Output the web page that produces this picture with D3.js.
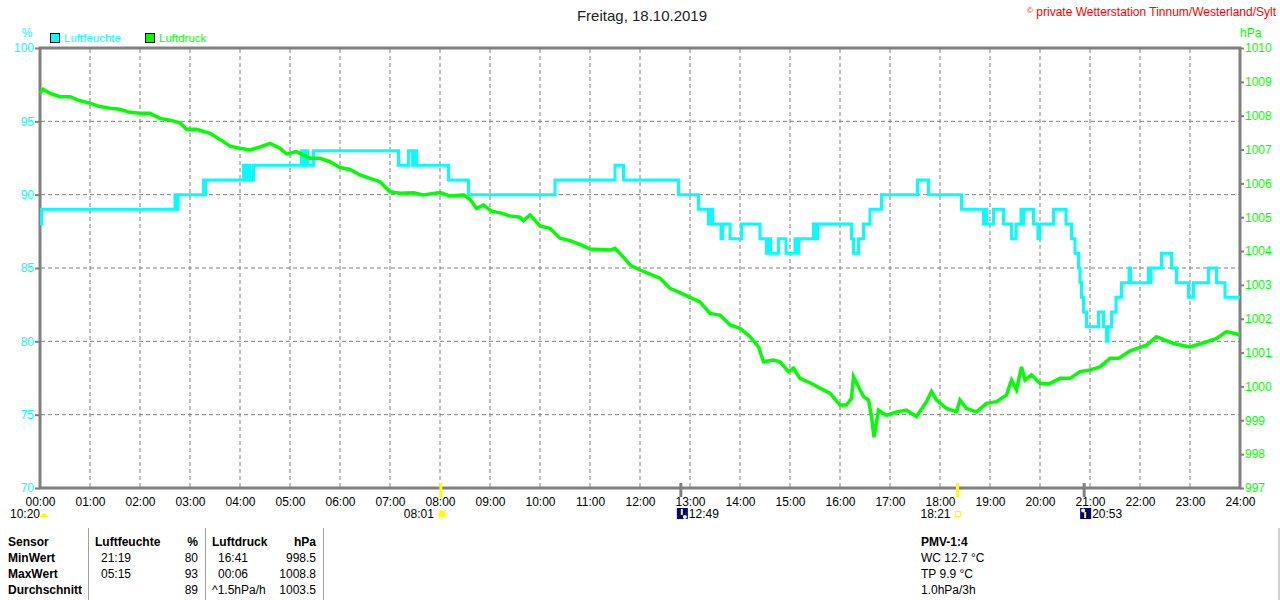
<!DOCTYPE html>
<html lang="de">
<head>
<meta charset="UTF-8" />
<title>Freitag, 18.10.2019</title>
<script src="https://d3js.org/d3.v7.min.js"></script>
<style>
  body { margin: 0; background: #fff; }
  svg { display: block; font-family: "Liberation Sans", Arial, sans-serif; }
  .grid line { stroke: #808080; stroke-width: 1; stroke-dasharray: 4,3; }
  .axis text { font-size: 12px; }
  .axis path { display: none; }
  .axis line { stroke: #808080; stroke-width: 2; }
  .tbl { font-size: 12px; fill: #000; }
  .tbl.b { font-weight: bold; }
</style>
</head>
<body>
<svg id="chart" width="1280" height="600"></svg>
<script>
// --- data ---
const hours = d3.range(0, 25);
const humTicks = [70, 75, 80, 85, 90, 95, 100];
const presTicks = d3.range(997, 1011);

// Luftfeuchte (%), step series: time in hours, value from that time on
const humTimes = [0.00, 0.03, 2.70, 2.73, 2.76, 3.27, 3.29, 3.31, 4.07, 4.13, 4.17, 4.20, 4.27, 5.23, 5.27, 5.31, 5.35, 5.47,
  7.17, 7.37, 7.45, 7.49, 7.53, 8.17, 8.57, 10.30, 11.50, 11.67, 12.77, 13.17, 13.37, 13.41, 13.45, 13.62, 13.65, 13.80,
  14.03, 14.40, 14.53, 14.58, 14.61, 14.77, 14.92, 15.10, 15.13, 15.17, 15.47, 15.53, 15.55, 16.23, 16.27, 16.37, 16.47,
  16.60, 16.83, 17.55, 17.77, 18.43, 18.87, 18.90, 18.93, 19.07, 19.27, 19.43, 19.52, 19.62, 19.64, 19.67, 19.87, 19.96,
  19.99, 20.27, 20.52, 20.63, 20.70, 20.77, 20.80, 20.83, 20.87, 20.93, 21.17, 21.27, 21.33, 21.36, 21.43, 21.52, 21.63,
  21.78, 21.81, 22.17, 22.20, 22.22, 22.43, 22.63, 22.73, 22.97, 23.07, 23.37, 23.53, 23.70, 24.00];
const humValues = [88, 89, 90, 89, 90, 91, 90, 91, 92, 91, 92, 91, 92, 93, 92, 93, 92, 93,
  92, 93, 92, 93, 92, 91, 90, 91, 92, 91, 90, 89, 88, 89, 88, 87, 88, 87,
  88, 87, 86, 87, 86, 87, 86, 87, 86, 87, 88, 87, 88, 87, 86, 87, 88,
  89, 90, 91, 90, 89, 88, 89, 88, 89, 88, 87, 88, 89, 88, 89, 88, 87,
  88, 89, 88, 87, 86, 85, 84, 83, 82, 81, 82, 81, 80, 81, 82, 83, 84,
  85, 84, 85, 84, 85, 86, 85, 84, 83, 84, 85, 84, 83, 83];

// Luftdruck (hPa)
const presTimes = [0.00, 0.06, 0.2, 0.4, 0.6, 0.8, 1.0, 1.2, 1.4, 1.6, 1.8, 2.0, 2.2, 2.4, 2.6, 2.8, 2.93, 3.13, 3.4, 3.6,
  3.8, 4.0, 4.2, 4.4, 4.6, 4.8, 4.93, 5.13, 5.4, 5.6, 5.8, 6.0, 6.2, 6.4, 6.6, 6.8, 7.0, 7.2, 7.47, 7.67, 7.8, 8.0,
  8.2, 8.47, 8.6, 8.73, 8.87, 9.03, 9.2, 9.4, 9.6, 9.67, 9.8, 10.0, 10.2, 10.4, 10.6, 10.8, 11.0, 11.2, 11.4, 11.5,
  11.67, 11.8, 12.0, 12.2, 12.4, 12.6, 12.8, 13.0, 13.2, 13.4, 13.6, 13.8, 14.0, 14.2, 14.37, 14.47, 14.67, 14.8,
  14.97, 15.07, 15.2, 15.4, 15.6, 15.8, 16.0, 16.13, 16.23, 16.27, 16.37, 16.47, 16.57, 16.63, 16.68, 16.77, 16.93,
  17.13, 17.33, 17.53, 17.73, 17.83, 17.93, 18.13, 18.33, 18.4, 18.53, 18.73, 18.93, 19.13, 19.33, 19.43, 19.53,
  19.63, 19.7, 19.83, 20.0, 20.2, 20.4, 20.6, 20.8, 21.0, 21.2, 21.4, 21.57, 21.8, 22.13, 22.33, 22.67, 23.0,
  23.33, 23.53, 23.73, 23.87, 24.0];
const presValues = [1008.66, 1008.78, 1008.66, 1008.56, 1008.56, 1008.44, 1008.37, 1008.27, 1008.22, 1008.19, 1008.10,
  1008.07, 1008.07, 1007.92, 1007.87, 1007.79, 1007.60, 1007.60, 1007.48, 1007.30, 1007.10, 1007.04, 1006.99, 1007.08,
  1007.18, 1007.04, 1006.87, 1006.94, 1006.74, 1006.74, 1006.64, 1006.47, 1006.41, 1006.25, 1006.15, 1006.05, 1005.75,
  1005.71, 1005.72, 1005.66, 1005.69, 1005.73, 1005.63, 1005.66, 1005.53, 1005.26, 1005.36, 1005.18, 1005.13, 1005.04,
  1005.00, 1004.90, 1005.07, 1004.74, 1004.67, 1004.38, 1004.31, 1004.20, 1004.06, 1004.05, 1004.03, 1004.08, 1003.82,
  1003.59, 1003.44, 1003.32, 1003.20, 1002.90, 1002.77, 1002.63, 1002.50, 1002.16, 1002.11, 1001.82, 1001.72, 1001.47,
  1001.17, 1000.73, 1000.78, 1000.73, 1000.44, 1000.54, 1000.24, 1000.11, 999.95, 999.80, 999.45, 999.45, 999.65,
  1000.29, 999.99, 999.70, 999.60, 999.11, 998.50, 999.30, 999.15, 999.25, 999.30, 999.11, 999.55, 999.85, 999.60,
  999.35, 999.25, 999.60, 999.35, 999.25, 999.50, 999.55, 999.75, 1000.19, 999.90, 1000.58, 1000.19, 1000.34,
  1000.09, 1000.09, 1000.24, 1000.24, 1000.44, 1000.49, 1000.58, 1000.83, 1000.83, 1001.05, 1001.22, 1001.47,
  1001.27, 1001.17, 1001.32, 1001.42, 1001.62, 1001.57, 1001.52];

// Sonne / Mond
const astroTimes = [8.017, 12.817, 18.35, 20.883];
const astroLabels = ['08:01', '12:49', '18:21', '20:53'];
const astroKinds = ['sunrise', 'moonset', 'sunset', 'moonrise'];

// Statistik-Tabelle
const tableRows = ['Sensor', 'MinWert', 'MaxWert', 'Durchschnitt'];
const humCol = [['Luftfeuchte', '%'], ['21:19', '80'], ['05:15', '93'], ['', '89']];
const presCol = [['Luftdruck', 'hPa'], ['16:41', '998.5'], ['00:06', '1008.8'], ['^1.5hPa/h', '1003.5']];
const pmvLines = ['PMV-1:4', 'WC 12.7 °C', 'TP 9.9 °C', '1.0hPa/3h'];

const CYAN = '#00ffff', GREEN = '#00ff00', GRAY = '#808080';

const svg = d3.select('#chart');
const x = d3.scaleLinear().domain([0, 24]).range([40, 1240]);
const yHum = d3.scaleLinear().domain([70, 100]).range([488, 48]);
const yPres = d3.scaleLinear().domain([997, 1010]).range([488, 48]);

// title
svg.append('text').attr('x', 642).attr('y', 21).attr('text-anchor', 'middle')
  .attr('font-size', 15).attr('fill', '#222').text('Freitag, 18.10.2019');
const cp = svg.append('text').attr('x', 1276).attr('y', 16).attr('text-anchor', 'end')
  .attr('font-size', 12).attr('fill', '#ff0000');
cp.append('tspan').attr('font-size', 8).attr('dy', -3).text('©');
cp.append('tspan').attr('dy', 3).text(' private Wetterstation Tinnum/Westerland/Sylt');

// unit labels
svg.append('text').attr('x', 27).attr('y', 37).attr('text-anchor', 'middle')
  .attr('font-size', 12).attr('fill', CYAN).text('%');
svg.append('text').attr('x', 1240).attr('y', 37).attr('font-size', 12).attr('fill', GREEN).text('hPa');

// legend
const legend = [['Luftfeuchte', CYAN, 50], ['Luftdruck', GREEN, 145]];
legend.forEach(([name, col, lx]) => {
  svg.append('rect').attr('x', lx + 0.5).attr('y', 33.5).attr('width', 9).attr('height', 9)
    .attr('fill', col).attr('stroke', '#000');
  svg.append('text').attr('x', lx + 14).attr('y', 42).attr('font-size', 11.5).attr('fill', col).text(name);
});

// grid
const grid = svg.append('g').attr('class', 'grid');
grid.selectAll('line.v').data(hours.slice(1, -1)).join('line').attr('class', 'v')
  .attr('x1', d => x(d)).attr('x2', d => x(d)).attr('y1', 49).attr('y2', 487);
grid.selectAll('line.h').data(humTicks.slice(1, -1)).join('line').attr('class', 'h')
  .attr('x1', 41).attr('x2', 1239).attr('y1', d => yHum(d)).attr('y2', d => yHum(d));

// axes
const axL = svg.append('g').attr('class', 'axis').attr('transform', 'translate(40,0)')
  .call(d3.axisLeft(yHum).tickValues(humTicks).tickSize(5).tickPadding(1).tickSizeOuter(0));
axL.selectAll('text').attr('fill', CYAN);
const axR = svg.append('g').attr('class', 'axis').attr('transform', 'translate(1240,0)')
  .call(d3.axisRight(yPres).tickValues(presTicks).tickFormat(d3.format('d'))
    .tickSize(4).tickPadding(1).tickSizeOuter(0));
axR.selectAll('text').attr('fill', GREEN);
const axB = svg.append('g').attr('class', 'axis').attr('transform', 'translate(0,488)')
  .call(d3.axisBottom(x).tickValues(hours).tickSize(0).tickPadding(9)
    .tickFormat(d => d3.format('02d')(d) + ':00'));
axB.selectAll('text').attr('fill', '#000');

// frame
svg.append('rect').attr('x', 40).attr('y', 48).attr('width', 1200).attr('height', 440)
  .attr('fill', 'none').attr('stroke', GRAY).attr('stroke-width', 3);

// series
const humData = humTimes.map((t, i) => [t, humValues[i]]);
const presData = presTimes.map((t, i) => [t, presValues[i]]);
svg.append('path').datum(humData).attr('fill', 'none').attr('stroke', CYAN).attr('stroke-width', 3)
  .attr('d', d3.line().x(d => x(d[0])).y(d => yHum(d[1])).curve(d3.curveStepAfter));
svg.append('path').datum(presData).attr('fill', 'none').attr('stroke', GREEN).attr('stroke-width', 3.5)
  .attr('stroke-linejoin', 'miter')
  .attr('d', d3.line().x(d => x(d[0])).y(d => yPres(d[1])));

// sun / moon markers
const astro = svg.append('g');
astroTimes.forEach((t, i) => {
  const ax = x(t), kind = astroKinds[i];
  const sun = kind.startsWith('sun');
  astro.append('line').attr('x1', ax).attr('x2', ax).attr('y1', 483).attr('y2', 497)
    .attr('stroke', sun ? '#ffff00' : GRAY).attr('stroke-width', 3);
  if (kind === 'sunrise') {
    astro.append('circle').attr('cx', ax + 1).attr('cy', 514).attr('r', 3.5).attr('fill', '#ffff00');
    d3.range(8).forEach(k => {
      const a = k * Math.PI / 4;
      astro.append('line').attr('x1', ax + 1 + Math.cos(a) * 4.5).attr('y1', 514 + Math.sin(a) * 4.5)
        .attr('x2', ax + 1 + Math.cos(a) * 6).attr('y2', 514 + Math.sin(a) * 6)
        .attr('stroke', '#ffff00').attr('stroke-width', 1);
    });
    astro.append('text').attr('x', ax - 7).attr('y', 518).attr('text-anchor', 'end').attr('font-size', 12).text(astroLabels[i]);
  } else if (kind === 'sunset') {
    astro.append('rect').attr('x', ax - 2).attr('y', 511.5).attr('width', 5).attr('height', 5)
      .attr('fill', 'none').attr('stroke', '#ffff00').attr('stroke-width', 1);
    astro.append('text').attr('x', ax - 7).attr('y', 518).attr('text-anchor', 'end').attr('font-size', 12).text(astroLabels[i]);
  } else {
    const bx = ax - 4;
    astro.append('rect').attr('x', bx).attr('y', 508).attr('width', 11).attr('height', 11).attr('fill', '#000080');
    astro.append('circle').attr('cx', kind === 'moonset' ? bx + 8 : bx + 3).attr('cy', kind === 'moonset' ? 517 : 510.5)
      .attr('r', 2).attr('fill', '#fff');
    const ay = kind === 'moonset' ? [509, 515] : [518, 512];
    astro.append('line').attr('x1', bx + 5).attr('x2', bx + 5).attr('y1', ay[0]).attr('y2', ay[1])
      .attr('stroke', '#ffff00').attr('stroke-width', 2);
    astro.append('text').attr('x', bx + 12).attr('y', 518).attr('font-size', 12).text(astroLabels[i]);
  }
});
// 00:00 marker
svg.append('text').attr('x', 10).attr('y', 518).attr('font-size', 12).text('10:20');
svg.append('path').attr('d', 'M40,517 Q44,509 48,517 Z').attr('fill', '#ffff00');

// table
const rowY = [546, 562, 578, 594];
const tbl = svg.append('g');
[88.5, 205.5, 323.5, 1279].forEach(lx => tbl.append('line')
  .attr('x1', lx).attr('x2', lx).attr('y1', 528).attr('y2', 600).attr('stroke', '#a0a0a0'));
tableRows.forEach((r, i) => {
  tbl.append('text').attr('class', 'tbl b').attr('x', 8).attr('y', rowY[i]).text(r);
  const head = i === 0 ? 'tbl b' : 'tbl';
  tbl.append('text').attr('class', head).attr('x', i === 0 ? 95 : 101).attr('y', rowY[i]).text(humCol[i][0]);
  tbl.append('text').attr('class', head).attr('x', 198).attr('y', rowY[i]).attr('text-anchor', 'end').text(humCol[i][1]);
  tbl.append('text').attr('class', head).attr('x', i === 0 || i === 3 ? 212 : 218).attr('y', rowY[i]).text(presCol[i][0]);
  tbl.append('text').attr('class', head).attr('x', 316).attr('y', rowY[i]).attr('text-anchor', 'end').text(presCol[i][1]);
  tbl.append('text').attr('class', i === 0 ? 'tbl b' : 'tbl').attr('x', 921).attr('y', rowY[i]).text(pmvLines[i]);
});
</script>
</body>
</html>
